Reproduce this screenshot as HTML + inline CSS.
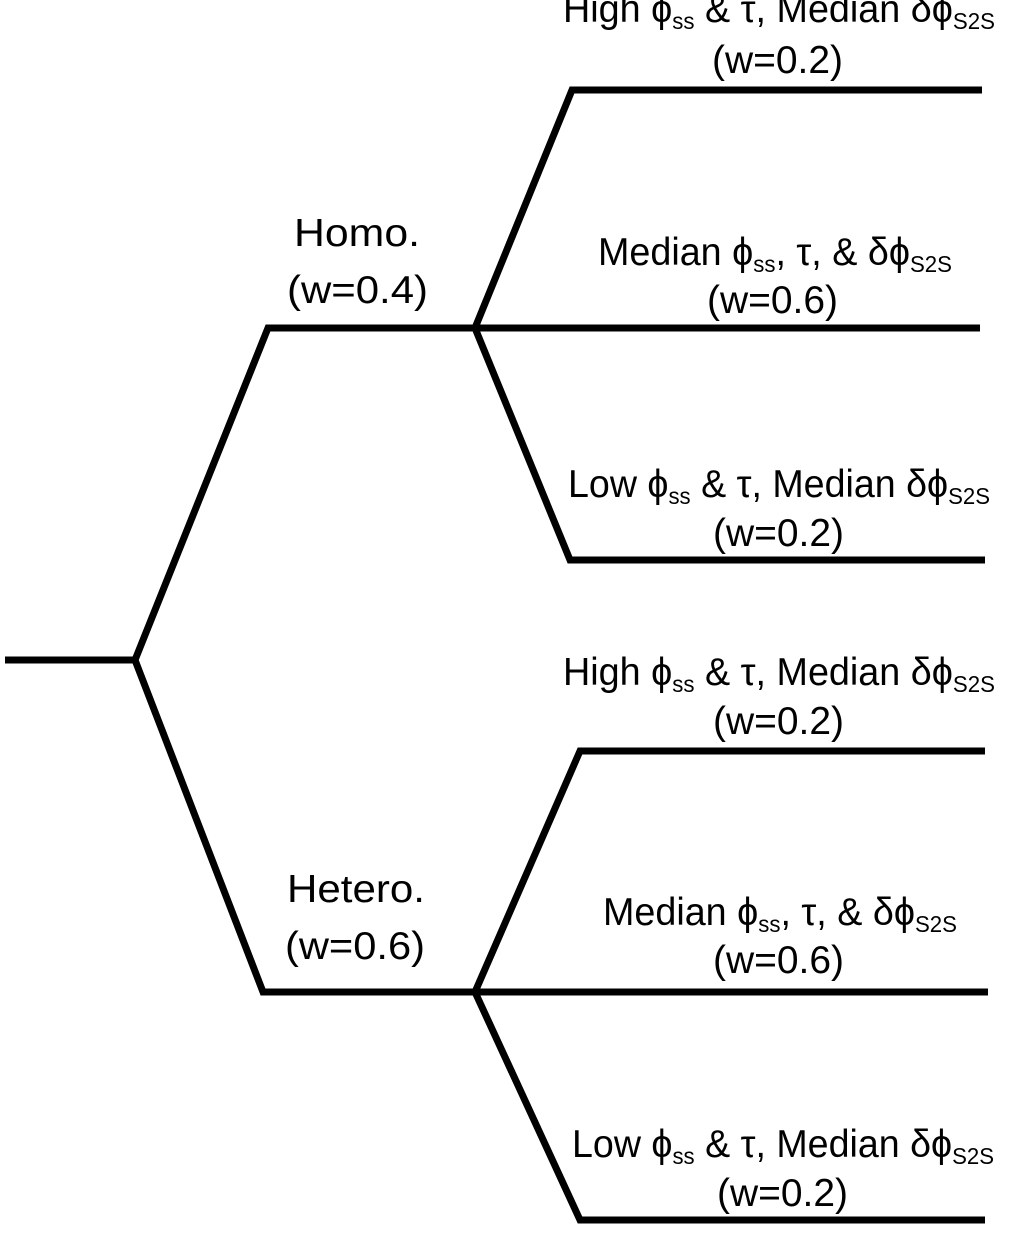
<!DOCTYPE html>
<html><head><style>html,body{margin:0;padding:0;background:#fff;}svg{display:block}</style></head>
<body>
<svg width="1015" height="1239" viewBox="0 0 1015 1239" xmlns="http://www.w3.org/2000/svg">
<g fill="none" stroke="#000" stroke-width="7" stroke-linejoin="miter">
<polyline points="5,660 135,660 268,328 475,328 572,90 982,90"/>
<polyline points="475,328 980,328"/>
<polyline points="475,328 570,560 985,560"/>
<polyline points="135,660 263,992 475,992 580,751 985,751"/>
<polyline points="475,992 988,992"/>
<polyline points="475,992 580,1220 985,1220"/>
</g>
<g font-family="Liberation Sans, sans-serif" font-size="39" fill="#000">
<text x="563" y="22" textLength="432" lengthAdjust="spacingAndGlyphs">High ϕ<tspan font-size="23" dy="7">ss</tspan><tspan dy="-7"> &amp; τ, Median δϕ</tspan><tspan font-size="23" dy="7">S2S</tspan></text>
<text x="712" y="73" textLength="131" lengthAdjust="spacingAndGlyphs">(w=0.2)</text>
<text x="598" y="265" textLength="354" lengthAdjust="spacingAndGlyphs">Median ϕ<tspan font-size="23" dy="7">ss</tspan><tspan dy="-7">, τ, &amp; δϕ</tspan><tspan font-size="23" dy="7">S2S</tspan></text>
<text x="707" y="313" textLength="131" lengthAdjust="spacingAndGlyphs">(w=0.6)</text>
<text x="568" y="497" textLength="422" lengthAdjust="spacingAndGlyphs">Low ϕ<tspan font-size="23" dy="7">ss</tspan><tspan dy="-7"> &amp; τ, Median δϕ</tspan><tspan font-size="23" dy="7">S2S</tspan></text>
<text x="713" y="546" textLength="131" lengthAdjust="spacingAndGlyphs">(w=0.2)</text>
<text x="563" y="685" textLength="432" lengthAdjust="spacingAndGlyphs">High ϕ<tspan font-size="23" dy="7">ss</tspan><tspan dy="-7"> &amp; τ, Median δϕ</tspan><tspan font-size="23" dy="7">S2S</tspan></text>
<text x="713" y="734" textLength="131" lengthAdjust="spacingAndGlyphs">(w=0.2)</text>
<text x="603" y="925" textLength="354" lengthAdjust="spacingAndGlyphs">Median ϕ<tspan font-size="23" dy="7">ss</tspan><tspan dy="-7">, τ, &amp; δϕ</tspan><tspan font-size="23" dy="7">S2S</tspan></text>
<text x="713" y="973" textLength="131" lengthAdjust="spacingAndGlyphs">(w=0.6)</text>
<text x="572" y="1157" textLength="422" lengthAdjust="spacingAndGlyphs">Low ϕ<tspan font-size="23" dy="7">ss</tspan><tspan dy="-7"> &amp; τ, Median δϕ</tspan><tspan font-size="23" dy="7">S2S</tspan></text>
<text x="717" y="1206" textLength="131" lengthAdjust="spacingAndGlyphs">(w=0.2)</text>
<text x="294" y="246" textLength="126" lengthAdjust="spacingAndGlyphs">Homo.</text>
<text x="287" y="303" textLength="141" lengthAdjust="spacingAndGlyphs">(w=0.4)</text>
<text x="287" y="902" textLength="138" lengthAdjust="spacingAndGlyphs">Hetero.</text>
<text x="285" y="959" textLength="140" lengthAdjust="spacingAndGlyphs">(w=0.6)</text>
</g>
</svg>
</body></html>
